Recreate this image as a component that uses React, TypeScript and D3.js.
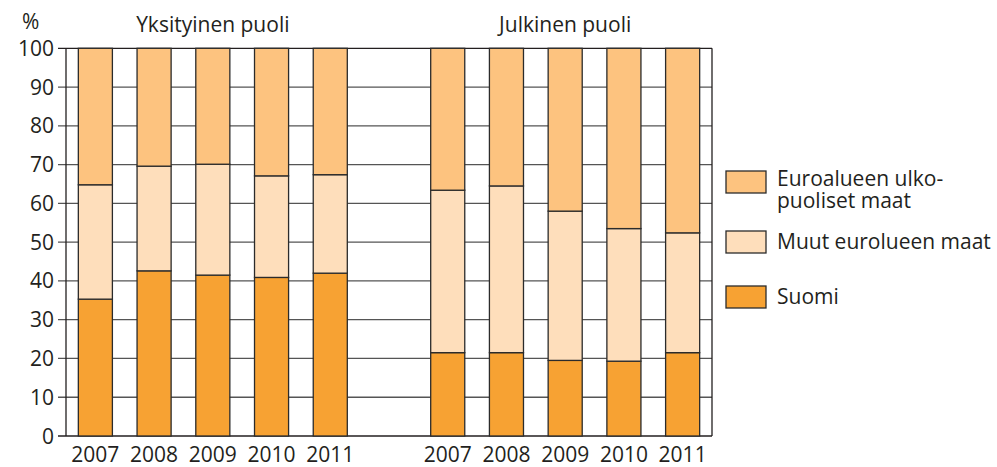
import * as d3 from "d3";
import { useEffect, useRef } from "react";

// vuodet ja ryhmät
const years = ["2007", "2008", "2009", "2010", "2011"];
const groups = ["Yksityinen puoli", "Julkinen puoli"];

// osuudet, %
const privSuomi = [35.3, 42.6, 41.5, 40.9, 42.0];
const privMuut = [29.5, 27.0, 28.6, 26.2, 25.4];
const privUlko = [35.2, 30.4, 29.9, 32.9, 32.6];

const pubSuomi = [21.5, 21.5, 19.5, 19.3, 21.5];
const pubMuut = [41.9, 43.0, 38.5, 34.2, 30.9];
const pubUlko = [36.6, 35.5, 42.0, 46.5, 47.6];

const seriesKeys = ["suomi", "muut", "ulko"];
const seriesLabels = {
  ulko: ["Euroalueen ulko-", "puoliset maat"],
  muut: ["Muut eurolueen maat"],
  suomi: ["Suomi"],
};
const colors = { suomi: "#F7A233", muut: "#FEDEBB", ulko: "#FDC37F" };

const yTicks = [0, 10, 20, 30, 40, 50, 60, 70, 80, 90, 100];

export default function App() {
  const ref = useRef(null);

  useEffect(() => {
    const svg = d3.select(ref.current);
    svg.selectAll("*").remove();

    const W = 997, H = 467;
    const margin = { left: 66, right: 285, top: 48.3, bottom: 31 };
    const font = "'Open Sans', sans-serif";
    const fs = "21px";
    const textColor = "#231f20";

    // rivit: yksityinen, tyhjä väli, julkinen
    const rows = [];
    years.forEach((y, i) => rows.push({ key: "p" + i, year: y, suomi: privSuomi[i], muut: privMuut[i], ulko: privUlko[i] }));
    rows.push({ key: "gap", year: "", suomi: 0, muut: 0, ulko: 0 });
    years.forEach((y, i) => rows.push({ key: "j" + i, year: y, suomi: pubSuomi[i], muut: pubMuut[i], ulko: pubUlko[i] }));

    const x = d3.scaleBand()
      .domain(rows.map(d => d.key))
      .range([margin.left, W - margin.right])
      .paddingInner(0.42)
      .paddingOuter(0.21);

    const y = d3.scaleLinear().domain([0, 100]).range([H - margin.bottom, margin.top]);

    // ruudukko
    svg.append("g")
      .selectAll("line")
      .data(yTicks)
      .enter()
      .append("line")
      .attr("x1", margin.left - 8)
      .attr("x2", W - margin.right)
      .attr("y1", d => y(d))
      .attr("y2", d => y(d))
      .attr("stroke", d => (d === 0 || d === 100 ? "#231f20" : "#555"))
      .attr("stroke-width", 1.3);

    // reunat
    [margin.left, W - margin.right].forEach(px => {
      svg.append("line")
        .attr("x1", px).attr("x2", px)
        .attr("y1", y(100)).attr("y2", y(0))
        .attr("stroke", "#231f20").attr("stroke-width", 1.3);
    });

    // akselin luvut
    svg.append("g")
      .selectAll("text")
      .data(yTicks)
      .enter()
      .append("text")
      .attr("x", 54)
      .attr("y", d => y(d))
      .attr("dy", "0.36em")
      .attr("text-anchor", "end")
      .style("font-family", font)
      .style("font-size", fs)
      .attr("fill", textColor)
      .text(d => d);

    svg.append("text")
      .attr("x", 22).attr("y", 29)
      .style("font-family", font).style("font-size", fs)
      .attr("fill", textColor)
      .text("%");

    // pinotut palkit
    const stacked = d3.stack().keys(seriesKeys)(rows.filter(d => d.key !== "gap"));
    stacked.forEach(layer => {
      svg.append("g")
        .selectAll("rect")
        .data(layer)
        .enter()
        .append("rect")
        .attr("x", d => x(d.data.key))
        .attr("y", d => y(d[1]))
        .attr("width", x.bandwidth())
        .attr("height", d => y(d[0]) - y(d[1]))
        .attr("fill", colors[layer.key])
        .attr("stroke", "#2b2b2b")
        .attr("stroke-width", 1.3);
    });

    // vuodet
    svg.append("g")
      .selectAll("text")
      .data(rows.filter(d => d.key !== "gap"))
      .enter()
      .append("text")
      .attr("x", d => x(d.key) + x.bandwidth() / 2)
      .attr("y", 462)
      .attr("text-anchor", "middle")
      .style("font-family", font)
      .style("font-size", fs)
      .attr("fill", textColor)
      .text(d => d.year);

    // ryhmien otsikot
    const groupCenters = [
      (x("p0") + x("p4") + x.bandwidth()) / 2,
      (x("j0") + x("j4") + x.bandwidth()) / 2,
    ];
    groups.forEach((g, i) => {
      svg.append("text")
        .attr("x", groupCenters[i])
        .attr("y", 32)
        .attr("text-anchor", "middle")
        .style("font-family", font)
        .style("font-size", fs)
        .attr("fill", textColor)
        .text(g);
    });

    // selite
    const legendItems = [
      { key: "ulko", y: 171 },
      { key: "muut", y: 231 },
      { key: "suomi", y: 286 },
    ];
    legendItems.forEach(item => {
      svg.append("rect")
        .attr("x", 726).attr("y", item.y)
        .attr("width", 40).attr("height", 22)
        .attr("fill", colors[item.key])
        .attr("stroke", "#2b2b2b").attr("stroke-width", 1.3);
      const lines = seriesLabels[item.key];
      const baseline = lines.length === 2 ? item.y + 15 : item.y + 18;
      lines.forEach((l, j) => {
        svg.append("text")
          .attr("x", 777)
          .attr("y", baseline + j * 22)
          .style("font-family", font)
          .style("font-size", fs)
          .attr("fill", textColor)
          .text(l);
      });
    });
  }, []);

  return <svg ref={ref} width={997} height={467} style={{ display: "block", position: "absolute", left: 0, top: 0 }} />;
}
